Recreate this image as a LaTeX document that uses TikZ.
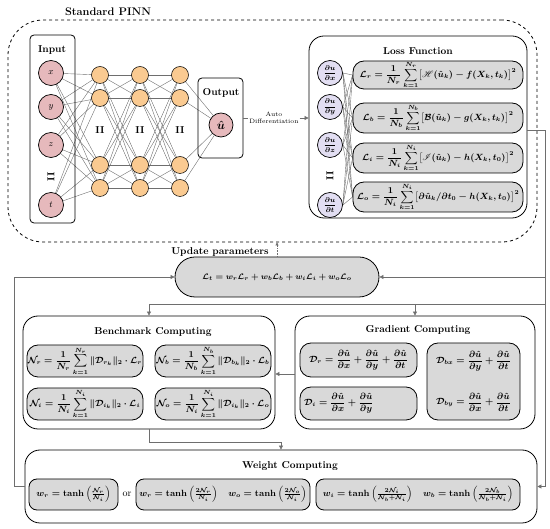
\documentclass[tikz,border=0pt]{standalone}
\usepackage{amsmath,amssymb}
\usepackage{mathrsfs}
\usetikzlibrary{arrows.meta,backgrounds}
\definecolor{pinkc}{RGB}{230,185,188}
\definecolor{orangec}{RGB}{250,202,145}
\definecolor{lavc}{RGB}{226,222,242}
\definecolor{grayc}{RGB}{217,217,217}
\definecolor{linec}{RGB}{110,110,110}
\begin{document}
\begin{tikzpicture}[x=1pt,y=-1pt,
  bigbox/.style={draw=black,line width=0.8pt,rounded corners=15pt,inner sep=0pt},
  smallbox/.style={draw=black,line width=0.8pt,rounded corners=4pt,inner sep=0pt},
  eqbox/.style={draw=black,line width=0.8pt,fill=grayc,rounded corners=11pt,inner sep=0pt,font=\fontsize{8.7}{10}\selectfont\boldmath,
     execute at begin node={$\displaystyle}, execute at end node={$}},
  nbox/.style={eqbox,font=\fontsize{9}{10}\selectfont\boldmath},
  plainbox/.style={draw=black,line width=0.8pt,fill=grayc,rounded corners=11pt,inner sep=0pt},
  eqtext/.style={inner sep=0pt,font=\fontsize{8.7}{10}\selectfont\boldmath,
     execute at begin node={$\displaystyle}, execute at end node={$}},
  wbox/.style={plainbox,rounded corners=8pt,minimum height=31pt,font=\fontsize{9}{10}\selectfont\boldmath},
  title/.style={font=\fontsize{10}{12}\selectfont\bfseries,inner sep=0pt},
  incirc/.style={circle,draw=black,line width=0.7pt,fill=pinkc,minimum size=25pt,inner sep=0pt,font=\fontsize{9}{10}\selectfont},
  hidcirc/.style={circle,draw=black,line width=0.5pt,fill=orangec,minimum size=17pt,inner sep=0pt},
  pcirc/.style={circle,draw=black,line width=0.7pt,fill=lavc,minimum size=25pt,inner sep=0pt,font=\fontsize{7.5}{8}\selectfont\boldmath},
  nnline/.style={draw=linec,line width=0.4pt},
  conn/.style={draw=linec,line width=0.6pt},
  arr/.style={conn,-{Triangle[length=4pt,width=4pt]}},
  dots/.style={font=\fontsize{10}{10}\selectfont\bfseries,inner sep=0pt}
]
\useasboundingbox (0,0) rectangle (550,529);

% ---------- Standard PINN ----------
\node[title,font=\fontsize{11}{13}\selectfont\bfseries] (pinntitle) at (108,12) {Standard PINN};
\node[draw=black,dashed,line width=0.8pt,rounded corners=35pt,minimum width=529pt,minimum height=222pt,inner sep=0pt] (pinn) at (272.5,131) {};

% input box
\node[smallbox,minimum width=45pt,minimum height=188pt] (inbox) at (52.5,129) {};
\node[title] (intitle) at (52,50) {Input};
\node[incirc] (ix) at (51,73) {$x$};
\node[incirc] (iy) at (51,107) {$y$};
\node[incirc] (iz) at (51,145) {$z$};
\node[dots,rotate=90] (idots) at (51,177) {II};
\node[incirc] (it) at (51,205) {$t$};

% output box
\node[smallbox,minimum width=45pt,minimum height=80pt] (outbox) at (220.5,118) {};
\node[title] (outtitle) at (221,93) {Output};
\node[incirc,minimum size=24pt,font=\fontsize{12}{12}\selectfont\boldmath] (uhat) at (221,125) {$\hat{u}$};

% hidden layers
\foreach \l/\xx in {1/100,2/140,3/180}{
  \node[hidcirc] (h\l a) at (\xx,75) {};
  \node[hidcirc] (h\l b) at (\xx,98) {};
  \node[hidcirc] (h\l c) at (\xx,165) {};
  \node[hidcirc] (h\l d) at (\xx,188) {};
  \node[dots] (hd\l) at (\xx,130) {II};
}
\begin{scope}[on background layer]
\foreach \a in {ix,iy,iz,it}{
  \foreach \b in {h1a,h1b,h1c,h1d}{ \path[nnline] (\a) -- (\b); }
}
\foreach \a in {h1a,h1b,h1c,h1d}{
  \foreach \b in {h2a,h2b,h2c,h2d}{ \path[nnline] (\a.center) -- (\b.center); }
}
\foreach \a in {h2a,h2b,h2c,h2d}{
  \foreach \b in {h3a,h3b,h3c,h3d}{ \path[nnline] (\a.center) -- (\b.center); }
  }
\foreach \a in {h3a,h3b,h3c,h3d}{ \path[nnline] (\a.center) -- (uhat); }
\end{scope}

% auto differentiation
\node[align=center,font=\fontsize{6.3}{7.3}\selectfont,inner sep=1pt] (auto) at (274,118) {Auto\\Differentiation};
\draw[conn] (outbox.east) -- (auto.west);

% loss function box
\node[bigbox,minimum width=218pt,minimum height=182pt] (loss) at (418,127) {};
\node[title] (losstitle) at (418,51) {Loss Function};
\draw[arr] (auto.east) -- (loss.west |- auto.east);

\node[pcirc] (px) at (330,73) {$\dfrac{\partial u}{\partial x}$};
\node[pcirc] (py) at (330,107) {$\dfrac{\partial u}{\partial y}$};
\node[pcirc] (pz) at (330,145) {$\dfrac{\partial u}{\partial z}$};
\node[dots,rotate=90] (pdots) at (330,176) {II};
\node[pcirc] (pt) at (330,205) {$\dfrac{\partial u}{\partial t}$};

\node[eqbox,minimum width=170pt,minimum height=28pt] (Lr) at (438,75)
  {\mathcal{L}_r=\frac{1}{N_r}\sum_{k=1}^{N_r}\bigl[\mathscr{H}(\hat{u}_k)-f(X_k,t_k)\bigr]^2};
\node[eqbox,minimum width=170pt,minimum height=30pt] (Lb) at (438,118)
  {\mathcal{L}_b=\frac{1}{N_b}\sum_{k=1}^{N_b}\bigl[\mathcal{B}(\hat{u}_k)-g(X_k,t_k)\bigr]^2};
\node[eqbox,minimum width=170pt,minimum height=30pt] (Li) at (438,158)
  {\mathcal{L}_i=\frac{1}{N_i}\sum_{k=1}^{N_i}\bigl[\mathscr{I}(\hat{u}_k)-h(X_k,t_0)\bigr]^2};
\node[eqbox,minimum width=170pt,minimum height=30pt] (Lo) at (438,197)
  {\mathcal{L}_o=\frac{1}{N_i}\sum_{k=1}^{N_i}\bigl[\partial\hat{u}_k/\partial t_0-h(X_k,t_0)\bigr]^2};
\begin{scope}[on background layer]
\foreach \a in {px,py,pz,pt}{
  \foreach \b in {Lr,Lb,Li,Lo}{ \path[nnline] (\a.east) -- (\b.west); }
}
\end{scope}

% ---------- total loss ----------
\node[draw=black,line width=0.8pt,fill=grayc,rounded corners=20pt,minimum width=204pt,minimum height=40pt,inner sep=0pt,font=\fontsize{8.5}{10}\selectfont\boldmath] (Lt) at (277,277)
  {$\mathcal{L}_t=w_r\mathcal{L}_r+w_b\mathcal{L}_b+w_i\mathcal{L}_i+w_o\mathcal{L}_o$};
\node[title] (upd) at (220,252) {Update parameters};
\draw[conn,densely dotted,-{Triangle[length=3pt,width=3pt]}] (Lt.north) -- (Lt.north |- pinn.south);

% ---------- benchmark computing ----------
\node[bigbox,minimum width=252pt,minimum height=113pt] (bench) at (149,372.5) {};
\node[title] (benchtitle) at (153,332) {Benchmark Computing};
\node[nbox,minimum width=116pt,minimum height=32pt] (Nr) at (85,361)
  {\mathcal{N}_r=\frac{1}{N_r}\sum_{k=1}^{N_r}\|\mathcal{D}_{r_k}\|_2\cdot\mathcal{L}_r};
\node[nbox,minimum width=116pt,minimum height=32pt] (Nb) at (213,361)
  {\mathcal{N}_b=\frac{1}{N_b}\sum_{k=1}^{N_b}\|\mathcal{D}_{b_k}\|_2\cdot\mathcal{L}_b};
\node[nbox,minimum width=116pt,minimum height=32pt] (Ni) at (85,404)
  {\mathcal{N}_i=\frac{1}{N_i}\sum_{k=1}^{N_i}\|\mathcal{D}_{i_k}\|_2\cdot\mathcal{L}_i};
\node[nbox,minimum width=116pt,minimum height=32pt] (No) at (213,404)
  {\mathcal{N}_o=\frac{1}{N_i}\sum_{k=1}^{N_i}\|\mathcal{D}_{i_k}\|_2\cdot\mathcal{L}_o};

% ---------- gradient computing ----------
\node[bigbox,minimum width=240pt,minimum height=113pt] (grad) at (415,372.5) {};
\node[title] (gradtitle) at (418,330) {Gradient Computing};
\node[eqbox,minimum width=117pt,minimum height=34pt] (Dr) at (358.5,360)
  {\mathcal{D}_r=\frac{\partial\hat{u}}{\partial x}+\frac{\partial\hat{u}}{\partial y}+\frac{\partial\hat{u}}{\partial t}};
\node[plainbox,minimum width=117pt,minimum height=33pt] (Di) at (358.5,403.5) {};
\node[eqtext,anchor=west] (Ditext) at (304,403.5)
  {\mathcal{D}_i=\frac{\partial\hat{u}}{\partial x}+\frac{\partial\hat{u}}{\partial y}};
\node[plainbox,minimum width=93pt,minimum height=77pt] (Db) at (473.5,381.5) {};
\node[eqtext] (Dbx) at (473.5,361)
  {\mathcal{D}_{bx}=\frac{\partial\hat{u}}{\partial y}+\frac{\partial\hat{u}}{\partial t}};
\node[eqtext] (Dby) at (473.5,402)
  {\mathcal{D}_{by}=\frac{\partial\hat{u}}{\partial x}+\frac{\partial\hat{u}}{\partial t}};

% ---------- weight computing ----------
\node[bigbox,minimum width=512pt,minimum height=73pt] (wt) at (281,486.5) {};
\node[title] (wttitle) at (290,466) {Weight Computing};
\node[wbox,minimum width=89pt] (w1) at (73.5,494.5)
  {$w_r=\tanh\left(\frac{\mathcal{N}_r}{\mathcal{N}_i}\right)$};
\node[font=\fontsize{10}{12}\selectfont,inner sep=0pt] (or) at (127,494) {or};
\node[wbox,minimum width=174pt] (w2) at (223,494.5)
  {$w_r=\tanh\left(\frac{2\mathcal{N}_r}{N_i}\right)\quad w_o=\tanh\left(\frac{2\mathcal{N}_o}{\mathcal{N}_i}\right)$};
\node[wbox,minimum width=204pt] (w3) at (418,494.5)
  {$w_i=\tanh\left(\frac{2\mathcal{N}_i}{\mathcal{N}_b+\mathcal{N}_i}\right)\quad w_b=\tanh\left(\frac{2\mathcal{N}_b}{\mathcal{N}_b+\mathcal{N}_i}\right)$};

% ---------- connectors ----------
\coordinate (rtop) at (545,130);
\coordinate (rLt) at (545,277);
\coordinate (rsplit) at (545,304);
\coordinate (lsplit) at (149,304);
\coordinate (gsplit) at (415,304);
\coordinate (lft) at (14,486.5);
\coordinate (bdrop) at (149,442);
\coordinate (gb) at (0,374);

\draw[arr] (loss.east |- rtop) -- (rtop) |- (wt.east);
\draw[arr] (rLt) -- (Lt.east);
\draw[conn] (rsplit) -- (lsplit);
\draw[arr] (lsplit) -- (bench.north);
\draw[arr] (gsplit) -- (grad.north);
\draw[arr] (grad.west |- gb) -- (bench.east |- gb);
\draw[arr] (bench.south) -- (bdrop) -| (wt.north);
\draw[arr] (wt.west) -- (lft) |- (Lt.west);
\end{tikzpicture}
\end{document}
